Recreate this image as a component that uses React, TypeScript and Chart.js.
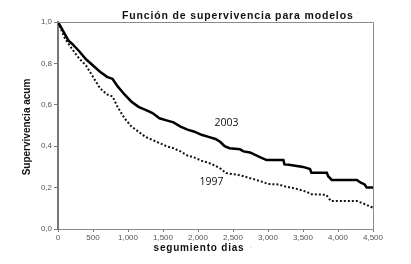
import React, { useEffect, useRef } from "react";
import { Chart, registerables } from "chart.js";

Chart.register(...registerables);

const titleText = "Función de supervivencia para modelos";
const xTitle = "segumiento dias";
const yTitle = "Supervivencia acum";
const xTicks = [0, 500, 1000, 1500, 2000, 2500, 3000, 3500, 4000, 4500];
const yTicks = [0, 0.2, 0.4, 0.6, 0.8, 1.0];

const t2003 = [0, 50, 100, 150, 200, 300, 400, 500, 600, 700, 780, 850, 950, 1050, 1150, 1250, 1350, 1450, 1550, 1650, 1750, 1850, 1950, 2050, 2150, 2250, 2320, 2380, 2450, 2600, 2650, 2743, 2900, 2980, 3220, 3235, 3300, 3500, 3600, 3620, 3840, 3860, 3910, 4270, 4320, 4380, 4410, 4500];
const s2003 = [1.0, 0.97, 0.94, 0.91, 0.895, 0.86, 0.82, 0.79, 0.76, 0.735, 0.725, 0.69, 0.65, 0.615, 0.59, 0.575, 0.56, 0.535, 0.525, 0.515, 0.495, 0.48, 0.47, 0.455, 0.445, 0.435, 0.42, 0.40, 0.39, 0.385, 0.375, 0.37, 0.345, 0.333, 0.333, 0.312, 0.31, 0.30, 0.29, 0.272, 0.272, 0.255, 0.237, 0.237, 0.225, 0.215, 0.20, 0.20];

const t1997 = [0, 50, 100, 150, 200, 300, 400, 500, 600, 700, 780, 850, 950, 1050, 1150, 1250, 1350, 1450, 1550, 1650, 1750, 1850, 1950, 2050, 2150, 2250, 2330, 2400, 2500, 2600, 2750, 2900, 3000, 3150, 3250, 3400, 3550, 3620, 3830, 3900, 4270, 4350, 4450, 4500];
const s1997 = [1.0, 0.96, 0.92, 0.895, 0.87, 0.825, 0.79, 0.735, 0.68, 0.65, 0.64, 0.59, 0.535, 0.495, 0.47, 0.445, 0.43, 0.415, 0.40, 0.39, 0.375, 0.355, 0.345, 0.33, 0.32, 0.305, 0.29, 0.27, 0.265, 0.26, 0.245, 0.23, 0.218, 0.215, 0.205, 0.195, 0.18, 0.168, 0.165, 0.135, 0.135, 0.125, 0.11, 0.103];

const seriesLabels = ["2003", "1997"];
const labelPos2003 = { x: 2407, y: 0.514 };
const labelPos1997 = { x: 2193, y: 0.225 };

const decorPlugin = {
  id: "decor",
  afterDraw(chart: any) {
    const { ctx, chartArea, scales } = chart;
    ctx.save();
    // frame top & right
    ctx.strokeStyle = "#8a8a8a";
    ctx.lineWidth = 1;
    ctx.beginPath();
    ctx.moveTo(chartArea.left, chartArea.top + 0.5);
    ctx.lineTo(chartArea.right + 0.5, chartArea.top + 0.5);
    ctx.lineTo(chartArea.right + 0.5, chartArea.bottom);
    ctx.stroke();

    // title
    ctx.fillStyle = "#111";
    ctx.font = "bold 10.5px 'Liberation Sans', Arial, sans-serif";
    ctx.textAlign = "left";
    ctx.textBaseline = "middle";
    (ctx as any).letterSpacing = "0.85px";
    ctx.fillText(titleText, 122, 16);
    (ctx as any).letterSpacing = "0px";
    ctx.fillStyle = "#bbb";
    ctx.font = "7px 'Liberation Sans', sans-serif";
    ctx.fillText("'", 357, 15);

    // x title
    ctx.fillStyle = "#111";
    ctx.font = "bold 10px 'Liberation Sans', Arial, sans-serif";
    (ctx as any).letterSpacing = "0.8px";
    ctx.textAlign = "center";
    ctx.fillText(xTitle, 199, 248);
    (ctx as any).letterSpacing = "0px";
    ctx.fillStyle = "#bbb";
    ctx.font = "7px 'Liberation Sans', sans-serif";
    ctx.fillText("·", 251, 248);

    // y title
    ctx.save();
    ctx.translate(27, 127);
    ctx.rotate(-Math.PI / 2);
    ctx.fillStyle = "#111";
    ctx.font = "bold 10px 'Liberation Sans Narrow', 'Liberation Sans', sans-serif";
    ctx.textAlign = "center";
    ctx.fillText(yTitle, 0, 0);
    ctx.restore();

    // series labels
    ctx.fillStyle = "#111";
    ctx.font = "10.5px 'Open Sans', 'Liberation Sans', sans-serif";
    ctx.textAlign = "center";
    ctx.fillText(seriesLabels[0], scales.x.getPixelForValue(labelPos2003.x), scales.y.getPixelForValue(labelPos2003.y));
    ctx.fillText(seriesLabels[1], scales.x.getPixelForValue(labelPos1997.x), scales.y.getPixelForValue(labelPos1997.y));
    ctx.restore();
  },
};

export default function App() {
  const ref = useRef<HTMLCanvasElement>(null);
  useEffect(() => {
    if (!ref.current) return;
    const chart = new Chart(ref.current, {
      type: "line",
      data: {
        datasets: [
          {
            label: seriesLabels[0],
            data: t2003.map((t, i) => ({ x: t, y: s2003[i] })),
            borderColor: "#000",
            borderWidth: 2.5,
            pointRadius: 0,
            tension: 0,
            fill: false,
          },
          {
            label: seriesLabels[1],
            data: t1997.map((t, i) => ({ x: t, y: s1997[i] })),
            borderColor: "#111",
            borderWidth: 2,
            borderDash: [2, 2],
            pointRadius: 0,
            tension: 0,
            fill: false,
          },
        ],
      },
      options: {
        animation: false,
        responsive: false,
        layout: { padding: { top: 22, right: 38, left: 0, bottom: 0 } },
        plugins: { legend: { display: false }, tooltip: { enabled: false }, title: { display: false } },
        scales: {
          x: {
            type: "linear",
            min: 0,
            max: 4500,
            afterFit: (s: any) => { s.height = 35; },
            afterBuildTicks: (s: any) => { s.ticks = xTicks.map((v) => ({ value: v })); },
            ticks: {
              color: "#555",
              font: { size: 8, family: "'Liberation Sans', Arial, sans-serif" },
              padding: 1,
              maxRotation: 0,
              autoSkip: false,
            },
            grid: { display: true, drawOnChartArea: false, drawTicks: true, tickLength: 3, color: "#777" },
            border: { display: true, color: "#888", width: 1 },
          },
          y: {
            type: "linear",
            min: 0,
            max: 1,
            afterFit: (s: any) => { s.width = 58; },
            afterBuildTicks: (s: any) => { s.ticks = yTicks.map((v) => ({ value: v })); },
            ticks: {
              color: "#555",
              font: { size: 8, family: "'Liberation Sans', Arial, sans-serif" },
              padding: 2,
              callback: (v: any) => Number(v).toFixed(1).replace(".", ","),
            },
            grid: { display: true, drawOnChartArea: false, drawTicks: true, tickLength: 4, color: "#777" },
            border: { display: true, color: "#777", width: 2 },
          },
        },
      },
      plugins: [decorPlugin],
    } as any);
    return () => chart.destroy();
  }, []);
  return (
    <div style={{ position: "fixed", left: 0, top: 0, width: 411, height: 264, background: "#fff" }}>
      <canvas ref={ref} width={411} height={264} style={{ display: "block", width: 411, height: 264 }} />
    </div>
  );
}
